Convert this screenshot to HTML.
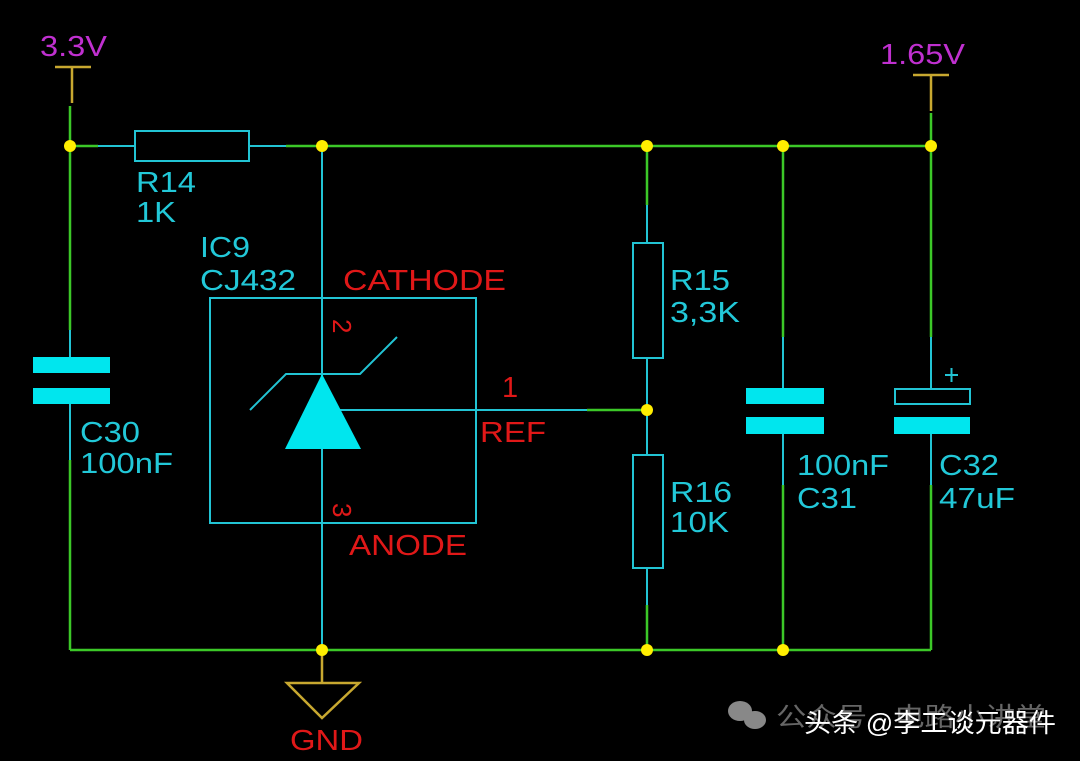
<!DOCTYPE html>
<html><head><meta charset="utf-8"><style>
html,body{margin:0;padding:0;background:#000;}
svg{display:block}
text{font-family:"Liberation Sans","Noto Sans CJK SC",sans-serif;}
</style></head><body>
<svg width="1080" height="761" viewBox="0 0 1080 761" xmlns="http://www.w3.org/2000/svg">
<rect width="1080" height="761" fill="#000"/>
<g stroke="#3cc828" stroke-width="2.5" fill="none">
<line x1="70" y1="106" x2="70" y2="330"/>
<line x1="70" y1="460" x2="70" y2="650"/>
<line x1="70" y1="146" x2="98" y2="146"/>
<line x1="286" y1="146" x2="931" y2="146"/>
<line x1="70" y1="650" x2="931" y2="650"/>
<line x1="931" y1="113" x2="931" y2="337"/>
<line x1="931" y1="485" x2="931" y2="650"/>
<line x1="783" y1="146" x2="783" y2="337"/>
<line x1="783" y1="485" x2="783" y2="650"/>
<line x1="647" y1="146" x2="647" y2="205"/>
<line x1="647" y1="605" x2="647" y2="650"/>
<line x1="587" y1="410" x2="647" y2="410"/>
</g>
<g stroke="#22c4d4" stroke-width="2" fill="none">
<line x1="98" y1="146" x2="135" y2="146"/>
<rect x="135" y="131" width="114" height="30"/>
<line x1="249" y1="146" x2="286" y2="146"/>
<line x1="70" y1="330" x2="70" y2="357"/>
<line x1="70" y1="404" x2="70" y2="460"/>
<line x1="322" y1="146" x2="322" y2="650"/>
<rect x="210" y="298" width="266" height="225"/>
<polyline points="250,410 286,374 360,374 397,337"/>
<line x1="340" y1="410" x2="587" y2="410"/>
<line x1="647" y1="205" x2="647" y2="605"/>
<rect x="633" y="243" width="30" height="115" fill="#000"/>
<rect x="633" y="455" width="30" height="113" fill="#000"/>
<line x1="783" y1="337" x2="783" y2="388"/>
<line x1="783" y1="434" x2="783" y2="485"/>
<line x1="931" y1="337" x2="931" y2="389"/>
<line x1="931" y1="434" x2="931" y2="485"/>
<rect x="895" y="389" width="75" height="15"/>
<line x1="945" y1="375" x2="958" y2="375"/>
<line x1="951.5" y1="368" x2="951.5" y2="382"/>
</g>
<g fill="#00e6ee">
<rect x="33" y="357" width="77" height="16"/>
<rect x="33" y="388" width="77" height="16"/>
<rect x="746" y="388" width="78" height="16"/>
<rect x="746" y="417" width="78" height="17"/>
<rect x="894" y="417" width="76" height="17"/>
<polygon points="322,374 285,449 361,449"/>
</g>
<g stroke="#c8a830" stroke-width="2.5" fill="none">
<line x1="55" y1="67" x2="91" y2="67"/><line x1="72" y1="67" x2="72" y2="103"/>
<line x1="913" y1="75" x2="949" y2="75"/><line x1="931" y1="75" x2="931" y2="111"/>
<line x1="322" y1="650" x2="322" y2="683"/>
<polygon points="287,683 359,683 322,718"/>
</g>
<g fill="#ffee00">
<circle cx="70" cy="146" r="6"/><circle cx="322" cy="146" r="6"/><circle cx="647" cy="146" r="6"/>
<circle cx="783" cy="146" r="6"/><circle cx="931" cy="146" r="6"/><circle cx="647" cy="410" r="6"/>
<circle cx="322" cy="650" r="6"/><circle cx="647" cy="650" r="6"/><circle cx="783" cy="650" r="6"/>
</g>
<g fill="#c030d0" font-size="29" lengthAdjust="spacingAndGlyphs">
<text x="40" y="56" textLength="67" lengthAdjust="spacingAndGlyphs">3.3V</text>
<text x="880" y="64" textLength="85" lengthAdjust="spacingAndGlyphs">1.65V</text>
</g>
<g fill="#22c8d8" font-size="29">
<text x="136" y="192" textLength="60" lengthAdjust="spacingAndGlyphs">R14</text>
<text x="136" y="222" textLength="40" lengthAdjust="spacingAndGlyphs">1K</text>
<text x="200" y="257" textLength="50" lengthAdjust="spacingAndGlyphs">IC9</text>
<text x="200" y="290" textLength="96" lengthAdjust="spacingAndGlyphs">CJ432</text>
<text x="80" y="442" textLength="60" lengthAdjust="spacingAndGlyphs">C30</text>
<text x="80" y="473" textLength="93" lengthAdjust="spacingAndGlyphs">100nF</text>
<text x="670" y="290" textLength="60" lengthAdjust="spacingAndGlyphs">R15</text>
<text x="670" y="322" textLength="70" lengthAdjust="spacingAndGlyphs">3,3K</text>
<text x="670" y="502" textLength="62" lengthAdjust="spacingAndGlyphs">R16</text>
<text x="670" y="532" textLength="59" lengthAdjust="spacingAndGlyphs">10K</text>
<text x="797" y="475" textLength="92" lengthAdjust="spacingAndGlyphs">100nF</text>
<text x="797" y="508" textLength="60" lengthAdjust="spacingAndGlyphs">C31</text>
<text x="939" y="475" textLength="60" lengthAdjust="spacingAndGlyphs">C32</text>
<text x="939" y="508" textLength="76" lengthAdjust="spacingAndGlyphs">47uF</text>
</g>
<g fill="#e01818" font-size="29">
<text x="343" y="290" textLength="163" lengthAdjust="spacingAndGlyphs">CATHODE</text>
<text x="349" y="555" textLength="118" lengthAdjust="spacingAndGlyphs">ANODE</text>
<text x="480" y="442" textLength="66" lengthAdjust="spacingAndGlyphs">REF</text>
<text x="502" y="397">1</text>
<text x="290" y="750" textLength="73" lengthAdjust="spacingAndGlyphs">GND</text>
<text transform="translate(333,319) rotate(90)" font-size="26">2</text>
<text transform="translate(333,503) rotate(90)" font-size="26">3</text>
</g>
<g fill="#888">
<ellipse cx="740" cy="711" rx="12" ry="10"/><ellipse cx="755" cy="720" rx="11" ry="9"/>
<text x="776" y="726" font-size="26" fill="#666" textLength="270" lengthAdjust="spacingAndGlyphs">公众号 · 电路小讲堂</text>
</g>
<text x="804" y="732" font-size="26" fill="#fff" textLength="252" lengthAdjust="spacingAndGlyphs">头条 @李工谈元器件</text>
</svg>
</body></html>
